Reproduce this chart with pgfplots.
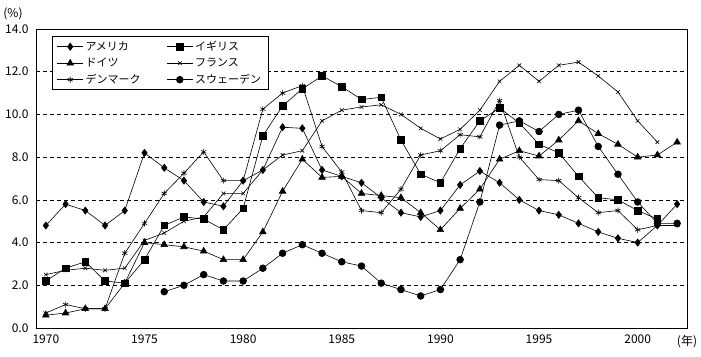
\documentclass[border=0pt]{standalone}
\usepackage{fontspec}
\setmainfont{Noto Sans CJK JP}
\usepackage{pgfplots}
\pgfplotsset{compat=1.18}
\begin{document}
\begin{tikzpicture}
\useasboundingbox (-36pt,-28pt) rectangle (665pt,328pt);
\begin{axis}[
  at={(0pt,0pt)}, anchor=south west,
  scale only axis,
  width=651pt, height=299pt,
  xmin=1969.5, xmax=2002.5,
  ymin=0, ymax=14,
  xtick={1970,1975,...,2000},
  minor xtick={1970.5,1971.5,...,2001.5},
  major tick length=0pt,
  minor tick length=5pt,
  tick align=inside,
  xtick pos=bottom,
  ytick={0,2,...,14},
  ytick style={draw=none},
  xtick style={draw=none},
  minor tick style={draw=black, line width=0.6pt},
  ymajorgrids,
  major grid style={black, line width=0.6pt, dash pattern=on 4pt off 3pt},
  /pgf/number format/assume math mode=true,
  xticklabel={\pgfmathprintnumber[1000 sep={}]{\tick}},
  yticklabel={\pgfmathprintnumber[fixed,fixed zerofill,precision=1]{\tick}},
  ticklabel style={font=\fontsize{12}{13}\selectfont},
  xticklabel style={yshift=-3pt},
  yticklabel style={xshift=-4pt},
  axis line style={line width=0.8pt},
  every axis plot/.append style={black, line width=0.6pt, mark options={solid}},
  legend columns=2,
  legend cell align=left,
  legend style={at={(0.024,0.975)}, anchor=north west, draw=black, line width=0.6pt,
    font=\fontsize{11}{12.5}\selectfont, inner xsep=5pt, inner ysep=2.5pt,
    row sep=2pt, /tikz/every even column/.append style={column sep=24pt}},
  legend image code/.code={\draw[mark repeat=2,mark phase=2] plot coordinates {(0pt,0pt)(13pt,0pt)(26pt,0pt)};},
  clip=false,
]
% America
\addplot[mark=diamond*, mark size=3.6pt] coordinates {
(1970,4.8)(1971,5.8)(1972,5.5)(1973,4.8)(1974,5.5)(1975,8.2)(1976,7.5)(1977,6.9)(1978,5.9)(1979,5.7)
(1980,6.9)(1981,7.4)(1982,9.4)(1983,9.35)(1984,7.4)(1985,7.1)(1986,6.8)(1987,6.1)(1988,5.4)(1989,5.2)
(1990,5.5)(1991,6.7)(1992,7.35)(1993,6.8)(1994,6.0)(1995,5.5)(1996,5.3)(1997,4.9)(1998,4.5)(1999,4.2)
(2000,4.0)(2001,4.8)(2002,5.8)};
\addlegendentry{アメリカ}
% UK
\addplot[mark=square*, mark size=3.3pt] coordinates {
(1970,2.2)(1971,2.8)(1972,3.1)(1973,2.2)(1974,2.1)(1975,3.2)(1976,4.8)(1977,5.2)(1978,5.1)(1979,4.6)
(1980,5.6)(1981,9.0)(1982,10.4)(1983,11.2)(1984,11.8)(1985,11.3)(1986,10.7)(1987,10.8)(1988,8.8)(1989,7.2)
(1990,6.8)(1991,8.4)(1992,9.7)(1993,10.3)(1994,9.6)(1995,8.6)(1996,8.2)(1997,7.1)(1998,6.1)(1999,6.0)
(2000,5.5)(2001,5.1)};
\addlegendentry{イギリス}
% Germany
\addplot[mark=triangle*, mark size=3.8pt] coordinates {
(1970,0.6)(1971,0.7)(1972,0.9)(1973,0.9)(1974,2.1)(1975,4.0)(1976,3.9)(1977,3.8)(1978,3.6)(1979,3.2)
(1980,3.2)(1981,4.5)(1982,6.4)(1983,7.9)(1984,7.05)(1985,7.1)(1986,6.3)(1987,6.2)(1988,6.1)(1989,5.4)
(1990,4.6)(1991,5.6)(1992,6.5)(1993,7.9)(1994,8.3)(1995,8.05)(1996,8.8)(1997,9.7)(1998,9.1)(1999,8.6)
(2000,8.0)(2001,8.1)(2002,8.7)};
\addlegendentry{ドイツ}
% France
\addplot[mark=x, mark size=2.6pt] coordinates {
(1970,2.5)(1971,2.7)(1972,2.8)(1973,2.7)(1974,2.8)(1975,4.1)(1976,4.45)(1977,5.0)(1978,5.2)(1979,6.3)
(1980,6.3)(1981,7.4)(1982,8.1)(1983,8.3)(1984,9.7)(1985,10.2)(1986,10.35)(1987,10.45)(1988,10.0)(1989,9.35)
(1990,8.85)(1991,9.3)(1992,10.2)(1993,11.55)(1994,12.3)(1995,11.55)(1996,12.3)(1997,12.45)(1998,11.8)(1999,11.05)
(2000,9.7)(2001,8.7)};
\addlegendentry{フランス}
% Denmark
\addplot[mark=asterisk, mark size=3pt] coordinates {
(1970,0.7)(1971,1.1)(1972,0.9)(1973,0.9)(1974,3.5)(1975,4.9)(1976,6.3)(1977,7.25)(1978,8.25)(1979,6.9)
(1980,6.9)(1981,10.25)(1982,11.0)(1983,11.35)(1984,8.5)(1985,7.3)(1986,5.5)(1987,5.4)(1988,6.5)(1989,8.1)
(1990,8.3)(1991,9.05)(1992,8.95)(1993,10.65)(1994,8.0)(1995,6.95)(1996,6.9)(1997,6.1)(1998,5.4)(1999,5.5)
(2000,4.6)(2001,4.8)(2002,4.8)};
\addlegendentry{デンマーク}
% Sweden
\addplot[mark=*, mark size=3.4pt] coordinates {
(1976,1.7)(1977,2.0)(1978,2.5)(1979,2.2)
(1980,2.2)(1981,2.8)(1982,3.5)(1983,3.9)(1984,3.5)(1985,3.1)(1986,2.9)(1987,2.1)(1988,1.8)(1989,1.5)
(1990,1.8)(1991,3.2)(1992,5.9)(1993,9.5)(1994,9.7)(1995,9.2)(1996,10.0)(1997,10.2)(1998,8.5)(1999,7.2)
(2000,5.9)(2001,4.9)(2002,4.9)};
\addlegendentry{スウェーデン}
\node[font=\fontsize{12}{13}\selectfont] at ([xshift=-23pt,yshift=15pt]rel axis cs:0,1) {(\%)};
\node[font=\fontsize{12}{13}\selectfont] at ([xshift=0pt,yshift=-14pt]rel axis cs:1,0) {(年)};
\end{axis}
\end{tikzpicture}
\end{document}
